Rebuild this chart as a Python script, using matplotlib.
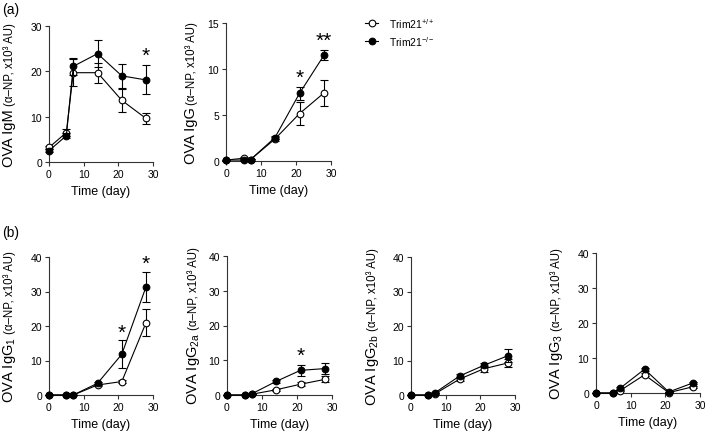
import matplotlib
matplotlib.use("Agg")
import matplotlib.pyplot as plt
from matplotlib.lines import Line2D

plt.rcParams['font.family'] = ['Liberation Sans', 'DejaVu Sans']
plt.rcParams['mathtext.fontset'] = 'custom'
plt.rcParams['mathtext.rm'] = 'Liberation Sans'
plt.rcParams['mathtext.it'] = 'Liberation Sans:italic'

# ---- data ----
days = [0, 5, 7, 14, 21, 28]

igm_wt = [3.2, 6.5, 19.7, 19.7, 13.6, 9.6]
igm_wt_err = [0.4, 0.8, 3.0, 2.2, 2.6, 1.2]
igm_ko = [2.5, 5.8, 21.1, 23.9, 19.0, 18.1]
igm_ko_err = [0.3, 0.6, 1.8, 3.0, 2.7, 3.2]

igg_wt = [0.1, 0.3, 0.15, 2.4, 5.15, 7.4]
igg_wt_err = [0.05, 0.1, 0.1, 0.2, 1.25, 1.4]
igg_ko = [0.1, 0.1, 0.15, 2.55, 7.35, 11.5]
igg_ko_err = [0.05, 0.05, 0.1, 0.2, 0.7, 0.55]

igg1_wt = [0, 0, 0, 2.9, 3.9, 21.0]
igg1_wt_err = [0, 0, 0, 0.4, 0.5, 3.9]
igg1_ko = [0, 0, 0, 3.4, 11.8, 31.4]
igg1_ko_err = [0, 0, 0, 0.5, 4.0, 4.3]

igg2a_wt = [0, 0, 0.2, 1.5, 3.1, 4.5]
igg2a_wt_err = [0, 0, 0.1, 0.3, 0.6, 0.9]
igg2a_ko = [0, 0, 0.3, 3.9, 7.1, 7.6]
igg2a_ko_err = [0, 0, 0.1, 0.5, 1.5, 1.5]

igg2b_wt = [0, 0, 0.4, 4.6, 7.6, 9.3]
igg2b_wt_err = [0, 0, 0.1, 0.5, 0.9, 1.2]
igg2b_ko = [0, 0, 0.7, 5.5, 8.6, 11.4]
igg2b_ko_err = [0, 0, 0.1, 0.5, 0.6, 1.9]

igg3_wt = [0, 0, 0.7, 5.2, 0.1, 1.8]
igg3_wt_err = [0, 0, 0.2, 0.4, 0.1, 0.3]
igg3_ko = [0, 0, 1.4, 6.8, 0.3, 2.9]
igg3_ko_err = [0, 0, 0.2, 0.4, 0.1, 0.3]

# significance marks: (day, y, text)
igm_stars = [(28, 23.6, '*')]
igg_stars = [(21, 9.1, '*'), (28, 13.1, '**')]
igg1_stars = [(21, 18.3, '*'), (28, 38.3, '*')]
igg2a_stars = [(21, 11.5, '*')]

W, H = 709, 439
fig = plt.figure(figsize=(W / 100, H / 100), dpi=100)


def px_axes(x0, x1, ytop, ybot):
    return fig.add_axes([x0 / W, 1 - ybot / H, (x1 - x0) / W, (ybot - ytop) / H])


def ylabel2(ax, xpx, big, small):
    # two-size rotated label, centred on the axes
    r = fig.canvas.get_renderer()
    t1 = fig.text(0, 0, big, fontsize=10.5, rotation=90, rotation_mode='anchor',
                  ha='left', va='baseline')
    t2 = fig.text(0, 0, small, fontsize=8.3, rotation=90, rotation_mode='anchor',
                  ha='left', va='baseline')
    l1 = t1.get_window_extent(r).height + 3
    l2 = t2.get_window_extent(r).height
    bb = ax.get_window_extent(r)
    yc = (bb.y0 + bb.y1) / 2
    y0 = yc - (l1 + l2) / 2
    t1.set_position((xpx / W, y0 / H))
    t2.set_position((xpx / W, (y0 + l1) / H))


def panel(ax, wt, wt_err, ko, ko_err, ymax, ystep, stars, big, xlab):
    ax.errorbar(days, wt, yerr=wt_err, color='black', lw=0.8, elinewidth=0.8,
                capsize=3, capthick=0.8, marker='o', ms=4.8, mfc='white',
                mec='black', mew=0.8, clip_on=False, zorder=3)
    ax.errorbar(days, ko, yerr=ko_err, color='black', lw=0.8, elinewidth=0.8,
                capsize=3, capthick=0.8, marker='o', ms=4.8, mfc='black',
                mec='black', mew=0.8, clip_on=False, zorder=4)
    for d, y, s in stars:
        ax.text(d, y, s, ha='center', va='center', fontsize=15)
    ax.set_xlim(0, 30)
    ax.set_ylim(0, ymax)
    ax.set_xticks([0, 10, 20, 30])
    ax.set_yticks(list(range(0, ymax + 1, ystep)))
    for s in ['top', 'right']:
        ax.spines[s].set_visible(False)
    for s in ['left', 'bottom']:
        ax.spines[s].set_linewidth(0.8)
        ax.spines[s].set_color('#333333')
    ax.tick_params(labelsize=7.5, length=3, width=0.8, pad=2, color='#333333')
    ax.set_xlabel('Time (day)', fontsize=9, labelpad=4.5)
    ylabel2(ax, xlab, big, '(\u03b1\u2013NP, x10\u00b3 AU)')


ax1 = px_axes(49, 153, 27, 163)
panel(ax1, igm_wt, igm_wt_err, igm_ko, igm_ko_err, 30, 10, igm_stars, 'OVA IgM', 13)

ax2 = px_axes(226, 331, 24, 162)
panel(ax2, igg_wt, igg_wt_err, igg_ko, igg_ko_err, 15, 5, igg_stars, 'OVA IgG', 195)

ax3 = px_axes(49, 153, 258, 396)
panel(ax3, igg1_wt, igg1_wt_err, igg1_ko, igg1_ko_err, 40, 10, igg1_stars,
      'OVA IgG$_1$', 13)

ax4 = px_axes(227, 332, 257, 396)
panel(ax4, igg2a_wt, igg2a_wt_err, igg2a_ko, igg2a_ko_err, 40, 10, igg2a_stars,
      r'OVA IgG$_\mathrm{2a}$', 197)

ax5 = px_axes(411, 515, 258, 396)
panel(ax5, igg2b_wt, igg2b_wt_err, igg2b_ko, igg2b_ko_err, 40, 10, [],
      r'OVA IgG$_\mathrm{2b}$', 376)

ax6 = px_axes(596, 700, 254, 394)
panel(ax6, igg3_wt, igg3_wt_err, igg3_ko, igg3_ko_err, 40, 10, [],
      'OVA IgG$_3$', 560)

# panel letters
fig.text(2 / W, 1 - 10 / H, '(a)', fontsize=10, va='center', ha='left')
fig.text(2 / W, 1 - 233 / H, '(b)', fontsize=10, va='center', ha='left')

# legend
for yy, fc, lab in [(24, 'white', 'Trim21$^{+/+}$'), (42, 'black', 'Trim21$^{-/-}$')]:
    fig.add_artist(Line2D([365 / W, 378 / W], [1 - yy / H, 1 - yy / H], color='black',
                          lw=0.8, marker=None))
    fig.add_artist(Line2D([371.5 / W], [1 - yy / H], color='black', marker='o',
                          ms=4.8, mfc=fc, mec='black', mew=0.8))
    fig.text(389 / W, 1 - yy / H, lab, fontsize=7.5, va='center', ha='left')

fig.savefig('out.png', dpi=100)
